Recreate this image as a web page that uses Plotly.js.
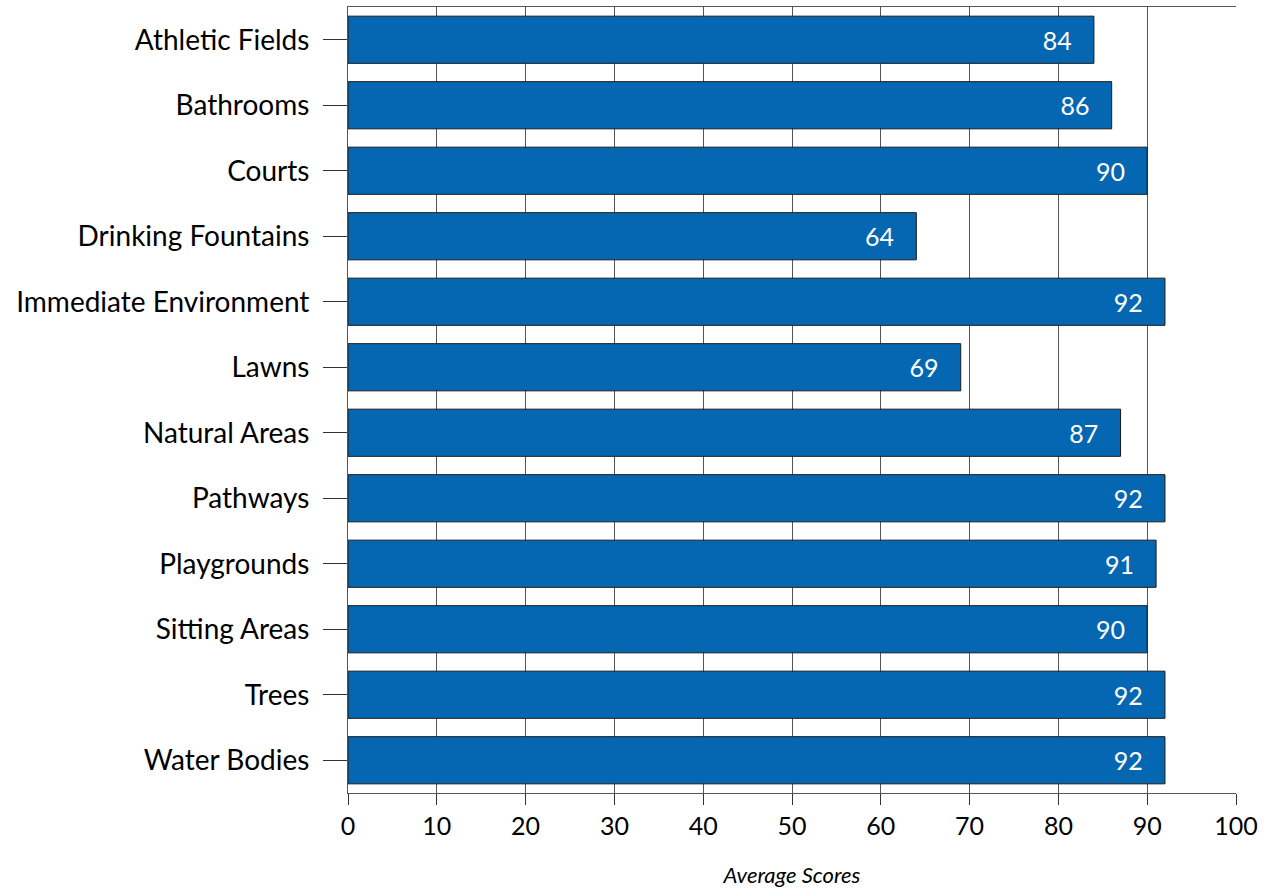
<!DOCTYPE html>
<html><head><meta charset="utf-8">
<script src="https://cdn.plot.ly/plotly-3.0.1.min.js"></script>
<style>body{margin:0;padding:0;background:#fff}#chart{width:1263px;height:895px}</style>
</head><body><div id="chart"></div>
<script>
const categories = ["Athletic Fields","Bathrooms","Courts","Drinking Fountains","Immediate Environment","Lawns","Natural Areas","Pathways","Playgrounds","Sitting Areas","Trees","Water Bodies"];
const scores = [84,86,90,64,92,69,87,92,91,90,92,92];
const xTicks = [0,10,20,30,40,50,60,70,80,90,100];

const trace = {
  type:'bar', orientation:'h',
  x: scores, y: categories,
  width: 0.72,
  marker:{color:'#0567b1', line:{color:'#1a1a1a', width:1}},
  text: scores.map(v => String(v)),
  texttemplate: '%{text}\u00a0\u00a0\u00a0',
  textposition:'inside', insidetextanchor:'end',
  textfont:{color:'#ffffff', size:25, family:'Lato, sans-serif'},
  constraintext:'none',
  hoverinfo:'skip'
};
const layout = {
  width:1263, height:895,
  margin:{l:348, r:27, t:7, b:102},
  paper_bgcolor:'#fff', plot_bgcolor:'#fff',
  font:{family:'Lato, sans-serif', color:'#000'},
  showlegend:false,
  xaxis:{range:[0,100], tickvals:xTicks, ticks:'outside', ticklen:11, tickcolor:'#333', tickwidth:1,
    showgrid:true, gridcolor:'#555', gridwidth:1, zeroline:false,
    showline:true, linecolor:'#555', linewidth:1, mirror:true,
    tickfont:{size:25, family:'Lato, sans-serif'},
    title:{text:'<i>Average Scores</i>', font:{size:22, family:'Lato, sans-serif'}, standoff:28}},
  yaxis:{autorange:'reversed', type:'category', ticks:'outside', ticklen:24, tickcolor:'#333', tickwidth:1,
    showline:true, linecolor:'#555', linewidth:1, showgrid:false, ticklabelstandoff:8,
    tickfont:{size:28, family:'Lato, sans-serif'}}
};
Plotly.newPlot('chart',[trace],layout,{displayModeBar:false, staticPlot:true});
</script></body></html>
